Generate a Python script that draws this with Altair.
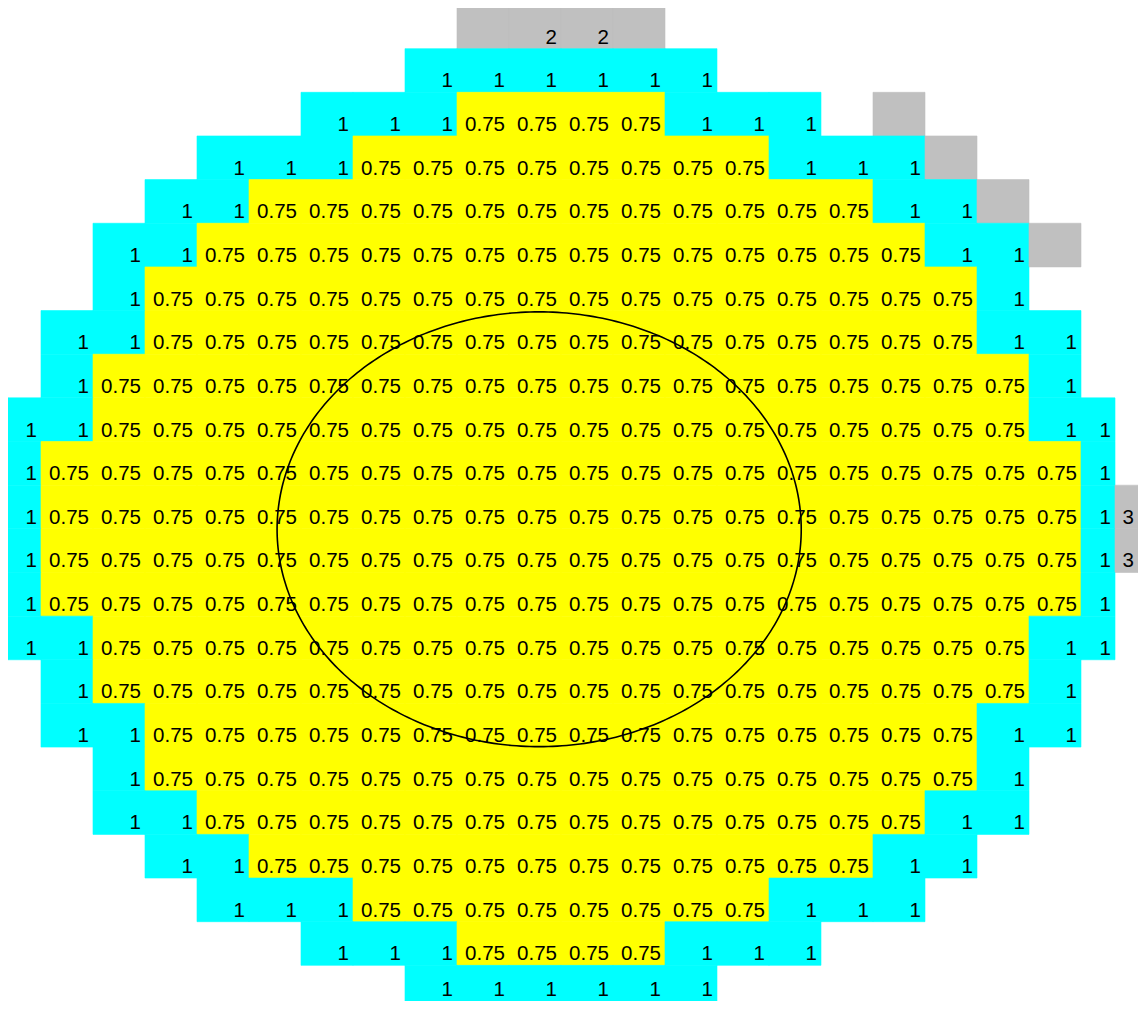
import altair as alt
import numpy as np
import pandas as pd

# Core map, one string per row (top to bottom), one char per column.
# '.' = empty, 'Y' = 0.75 (yellow), 'C' = 1 (cyan), 'G' = grey without label, '2'/'3' = grey with label
core_rows = [
    ".........G22G..........",
    "........CCCCCC.........",
    "......CCCYYYYCCC.G.....",
    "....CCCYYYYYYYYCCCG....",
    "...CCYYYYYYYYYYYYCCG...",
    "..CCYYYYYYYYYYYYYYCCG..",
    "..CYYYYYYYYYYYYYYYYC...",
    ".CCYYYYYYYYYYYYYYYYCC..",
    ".CYYYYYYYYYYYYYYYYYYC..",
    "CCYYYYYYYYYYYYYYYYYYCC.",
    "CYYYYYYYYYYYYYYYYYYYYC.",
    "CYYYYYYYYYYYYYYYYYYYYC3",
    "CYYYYYYYYYYYYYYYYYYYYC3",
    "CYYYYYYYYYYYYYYYYYYYYC.",
    "CCYYYYYYYYYYYYYYYYYYCC.",
    ".CYYYYYYYYYYYYYYYYYYC..",
    ".CCYYYYYYYYYYYYYYYYCC..",
    "..CYYYYYYYYYYYYYYYYC...",
    "..CCYYYYYYYYYYYYYYCC...",
    "...CCYYYYYYYYYYYYCC....",
    "....CCCYYYYYYYYCCC.....",
    "......CCCYYYYCCC.......",
    "........CCCCCC.........",
]
assert all(len(r) == 23 for r in core_rows), [len(r) for r in core_rows]

# column edges in data units (outer columns are narrower)
col_edges = [0.346] + list(range(1, 22)) + [21.654, 22.308]

kind_of = {"Y": "fuel", "C": "ring", "G": "grey", "2": "grey", "3": "grey"}
label_of = {"Y": "0.75", "C": "1", "G": "", "2": "2", "3": "3"}
kinds = ["fuel", "ring", "grey"]
kind_colors = ["#ffff00", "#00ffff", "#c0c0c0"]

# circle drawn over the map (center / radii in data units)
circle_center = (10.58, 12.01)
circle_radii = (5.04, 4.98)

cells = []
for r, row in enumerate(core_rows):
    for c, ch in enumerate(row):
        if ch == ".":
            continue
        cells.append(dict(x=col_edges[c], x2=col_edges[c + 1], y=r, y2=r + 1,
                          kind=kind_of[ch], label=label_of[ch]))
df = pd.DataFrame(cells)

t = np.linspace(0, 2 * np.pi, 361)
ell = pd.DataFrame({
    "ex": circle_center[0] + circle_radii[0] * np.cos(t),
    "ey": circle_center[1] + circle_radii[1] * np.sin(t),
    "o": np.arange(len(t)),
})

W, H = 1130, 993
x0, y0 = 0.3654, 0.0687
xs = alt.Scale(domain=[x0, x0 + W / 52.0], nice=False, zero=False, clamp=True)
ys = alt.Scale(domain=[y0, y0 + H / 43.652], nice=False, zero=False, reverse=True, clamp=True)

rects = alt.Chart(df).mark_rect(clip=True, strokeWidth=0.6).encode(
    x=alt.X("x:Q", scale=xs, axis=None),
    x2="x2:Q",
    y=alt.Y("y:Q", scale=ys, axis=None),
    y2="y2:Q",
    color=alt.Color("kind:N", scale=alt.Scale(domain=kinds, range=kind_colors), legend=None),
    stroke=alt.Stroke("kind:N", scale=alt.Scale(domain=kinds, range=kind_colors), legend=None),
)

texts = alt.Chart(df).mark_text(
    align="right", baseline="alphabetic", dx=-4, dy=-5,
    fontSize=20.5, font="Liberation Sans", color="black", clip=True,
).encode(
    x=alt.X("x2:Q", scale=xs, axis=None),
    y=alt.Y("y2:Q", scale=ys, axis=None),
    text="label:N",
)

circle = alt.Chart(ell).mark_line(color="black", strokeWidth=1.6, clip=True).encode(
    x=alt.X("ex:Q", scale=xs, axis=None),
    y=alt.Y("ey:Q", scale=ys, axis=None),
    order="o:Q",
)

chart = alt.layer(rects, texts, circle).properties(
    width=W, height=H,
    autosize=alt.AutoSizeParams(type="none"),
    padding=0,
).configure_view(stroke=None)

chart.save("out.html", embed_options={"renderer": "svg", "actions": False})
